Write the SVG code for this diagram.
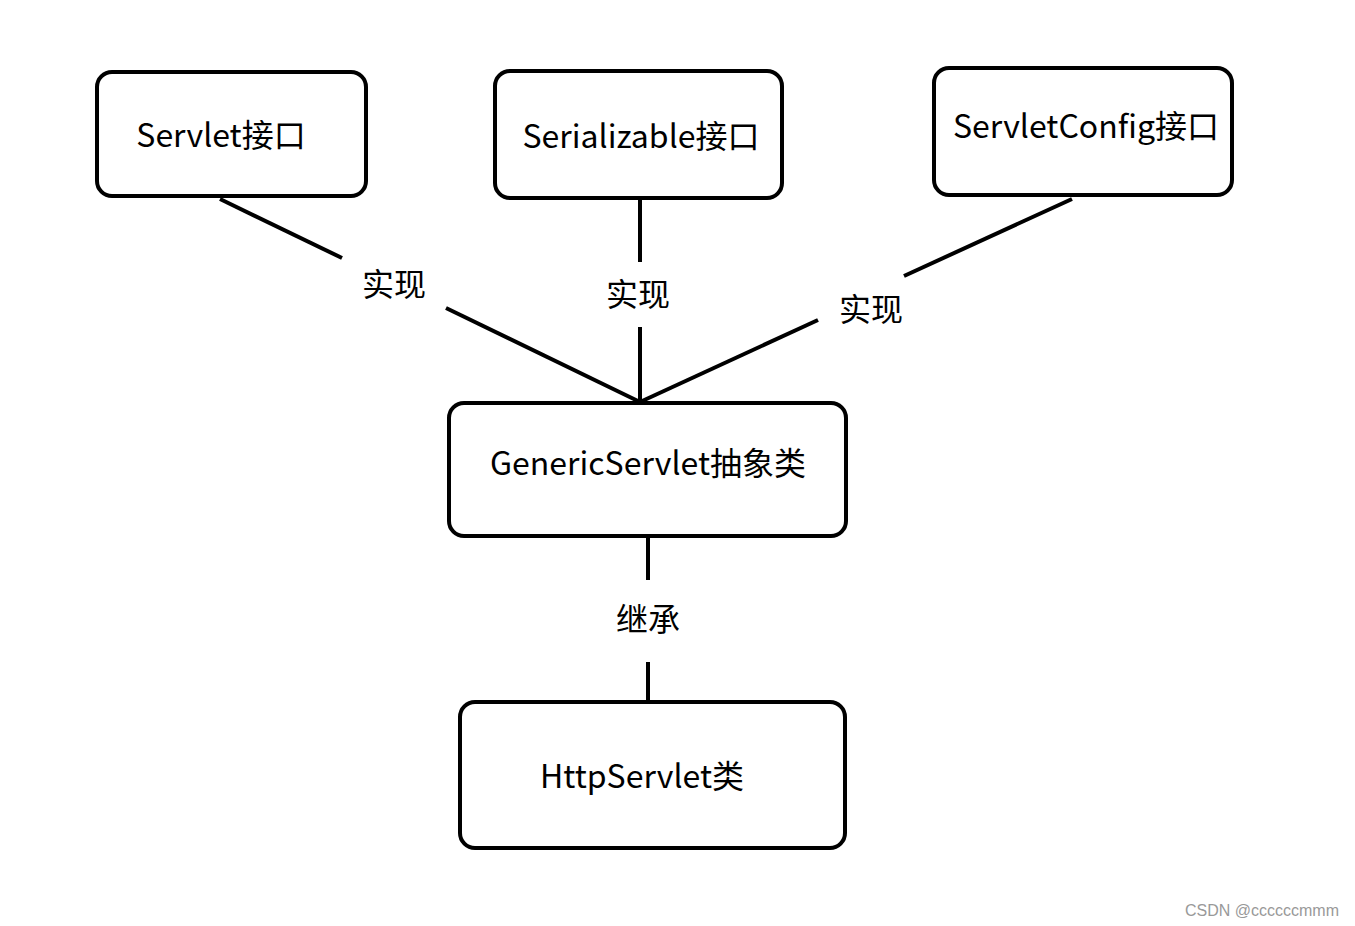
<svg xmlns="http://www.w3.org/2000/svg" width="1355" height="926" viewBox="0 0 1355 926">
<style>
.box{fill:#fff;stroke:#000;stroke-width:4}
.t{font-family:"Noto Sans CJK SC","Noto Sans",sans-serif;font-size:32px;fill:#000;text-anchor:middle}
.e{stroke:#000;stroke-width:4;fill:none}
.wm{font-family:"Liberation Sans",Arial,sans-serif;font-size:16px;fill:#999}
</style>
<rect width="1355" height="926" fill="#fff"/>
<g id="connectors">
<line class="e" x1="220" y1="199" x2="342" y2="258"/>
<line class="e" x1="446" y1="308" x2="640" y2="402"/>
<line class="e" x1="640" y1="199" x2="640" y2="262"/>
<line class="e" x1="640" y1="327" x2="640" y2="402"/>
<line class="e" x1="1072" y1="199" x2="904" y2="276"/>
<line class="e" x1="818" y1="320" x2="640" y2="402"/>
<line class="e" x1="648" y1="538" x2="648" y2="580"/>
<line class="e" x1="648" y1="662" x2="648" y2="702"/>
<text class="t" x="394" y="296">实现</text>
<text class="t" x="638" y="306">实现</text>
<text class="t" x="871" y="321">实现</text>
<text class="t" x="648" y="631">继承</text>
</g>
<g id="servlet">
<rect class="box" x="97" y="72" width="269" height="124" rx="15"/>
<text class="t" x="221" y="147">Servlet接口</text>
</g>
<g id="serializable">
<rect class="box" x="495" y="71" width="287" height="127" rx="15"/>
<text class="t" x="641" y="148">Serializable接口</text>
</g>
<g id="servletconfig">
<rect class="box" x="934" y="68" width="298" height="127" rx="15"/>
<text class="t" x="1086" y="138">ServletConfig接口</text>
</g>
<g id="generic">
<rect class="box" x="449" y="403" width="397" height="133" rx="15"/>
<text class="t" x="648" y="475">GenericServlet抽象类</text>
</g>
<g id="http">
<rect class="box" x="460" y="702" width="385" height="146" rx="15"/>
<text class="t" x="642" y="788">HttpServlet类</text>
</g>
<text class="wm" x="1185" y="916">CSDN @ccccccmmm</text>
</svg>
